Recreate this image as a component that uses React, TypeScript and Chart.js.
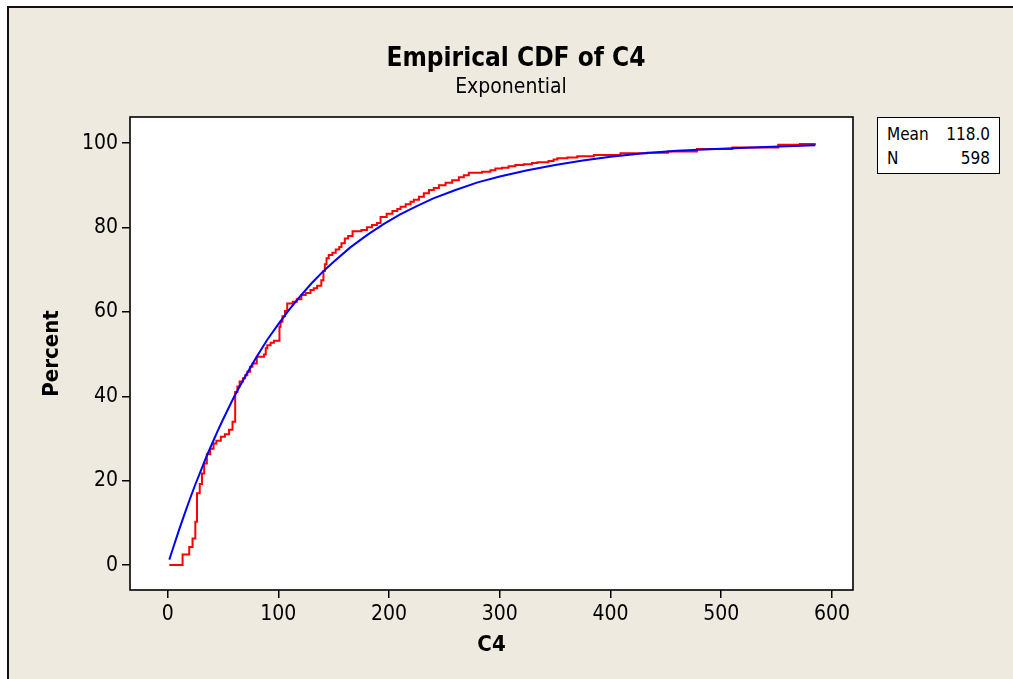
import { useEffect, useRef } from "react";
import { Chart, registerables } from "chart.js";

Chart.register(...registerables);

// ---------------- data ----------------
const titleText = "Empirical CDF of C4";
const subtitleText = "Exponential";
const xTitle = "C4";
const yTitle = "Percent";

const statLabels = ["Mean", "N"];
const statValues = ["118.0", "598"];

const xTicks = [0, 100, 200, 300, 400, 500, 600];
const yTicks = [0, 20, 40, 60, 80, 100];

// empirical CDF (step: value jumps to pct at x)
const ecdfX = [
  1.5, 13.5, 19.5, 22.5, 25, 26.5, 29, 31, 33, 35.4, 38.4, 41.5, 44, 48, 51.7, 55.5, 58.6, 61, 63, 65,
  68, 70, 72, 74.5, 76.6, 80.5, 87, 88.6, 90, 93, 96, 101, 102, 103.7, 106, 108, 113, 116.6, 120.8, 124.7,
  129, 132, 135, 138.8, 140.7, 142, 143.5, 145.5, 148.8, 151.8, 155, 157, 160, 163, 167, 175, 180, 184.5,
  189, 192.3, 197.8, 203, 207.4, 210.4, 215, 219.4, 222.4, 227, 231.4, 236, 240.4, 245, 251, 257, 263,
  267.5, 272, 284, 291.5, 296, 302, 308, 314, 321.6, 329, 334, 344, 348.6, 352, 361, 370, 385, 409, 433,
  452, 478, 510, 551.5, 571, 584.6,
];
const ecdfPct = [
  0, 2.5, 4.3, 6.3, 10.3, 17, 19.2, 21.7, 24.1, 26.3, 27.6, 28.8, 29.5, 30.4, 31, 32.1, 34, 41, 42.3, 43.5,
  44.3, 45, 45.8, 47, 47.8, 49.4, 49.9, 51.4, 52.1, 52.7, 53.2, 56.5, 57.7, 59, 60.2, 62, 62.4, 63, 64, 64.5,
  65.2, 65.6, 66.2, 67.5, 69.7, 71.3, 72.7, 73.5, 74, 74.8, 75.4, 76.3, 77.4, 78, 79.1, 79.4, 80.1, 80.6,
  81.1, 82.5, 83.3, 83.9, 84.4, 84.9, 85.5, 86.1, 86.6, 87.3, 88.1, 88.9, 89.4, 90, 90.6, 91.2, 91.9,
  92.4, 93, 93.2, 93.6, 94, 94.2, 94.5, 94.8, 95, 95.3, 95.5, 95.8, 96.1, 96.4, 96.6, 96.9, 97.2, 97.6, 97.7,
  98.0, 98.6, 99.0, 99.6, 99.8, 100,
];

// fitted exponential CDF
const fitX = [
  1.5, 5, 10, 15, 20, 25, 30, 35, 40, 45, 50, 60, 70, 80, 90, 100, 110, 120, 130, 140, 150, 165, 180, 195,
  210, 225, 240, 260, 280, 300, 325, 350, 375, 400, 430, 460, 500, 540, 585,
];
const fitPct = [
  1.3, 4.1, 8.1, 11.9, 15.6, 19.1, 22.4, 25.7, 28.7, 31.7, 34.5, 39.9, 44.7, 49.2, 53.4, 57.1, 60.6, 63.8,
  66.8, 69.5, 71.9, 75.3, 78.2, 80.8, 83.1, 85.1, 86.9, 88.9, 90.7, 92.1, 93.6, 94.8, 95.9, 96.8, 97.6, 98.2,
  98.7, 99.1, 99.5,
];

// ---------------- styling ----------------
const FONT = '"DejaVu Sans Condensed", "DejaVu Sans", sans-serif';
const BG = "#EEEAE0";

const plotFrame = {
  id: "plotFrame",
  beforeDraw(chart: any) {
    const { ctx, chartArea } = chart;
    const { left, top, right, bottom } = chartArea;
    ctx.save();
    ctx.fillStyle = "#ffffff";
    ctx.fillRect(left, top, right - left, bottom - top);
    ctx.restore();
  },
  afterDraw(chart: any) {
    const { ctx, chartArea } = chart;
    const { left, top, right, bottom } = chartArea;
    ctx.save();
    ctx.strokeStyle = "#000000";
    ctx.lineWidth = 1.6;
    ctx.strokeRect(left, top, right - left, bottom - top);
    ctx.restore();
  },
};

export default function App() {
  const canvasRef = useRef<HTMLCanvasElement | null>(null);

  useEffect(() => {
    document.body.style.margin = "0";
    document.body.style.overflow = "hidden";
    const canvas = canvasRef.current;
    if (!canvas) return;

    const chart = new Chart(canvas, {
      type: "line",
      data: {
        datasets: [
          {
            label: "Exponential fit",
            data: fitX.map((x, i) => ({ x, y: fitPct[i] })),
            borderColor: "#0000FF",
            borderWidth: 2,
            pointRadius: 0,
            tension: 0,
            fill: false,
          },
          {
            label: "C4",
            data: ecdfX.map((x, i) => ({ x, y: ecdfPct[i] })),
            borderColor: "#FF0000",
            borderWidth: 2,
            pointRadius: 0,
            stepped: "before",
            fill: false,
          },
        ],
      },
      options: {
        animation: false,
        responsive: false,
        devicePixelRatio: 1,
        layout: { padding: { left: 0, right: 160, top: 117, bottom: 0 } },
        plugins: {
          legend: { display: false },
          tooltip: { enabled: false },
          title: { display: false },
        },
        scales: {
          x: {
            type: "linear",
            min: -34,
            max: 619,
            afterBuildTicks: (s: any) => {
              s.ticks = xTicks.map((v) => ({ value: v }));
            },
            afterFit: (s: any) => {
              s.height = 89;
            },
            border: { display: false },
            grid: {
              display: true,
              drawOnChartArea: false,
              drawTicks: true,
              tickLength: 8,
              color: "#000",
              lineWidth: 1.5,
            },
            ticks: {
              color: "#000",
              padding: 4,
              maxRotation: 0,
              font: { family: FONT, size: 21 },
            },
            title: {
              display: true,
              text: xTitle,
              color: "#000",
              font: { family: FONT, size: 22, weight: "bold", lineHeight: 1.2 },
              padding: { top: 0, bottom: 21 },
            },
          },
          y: {
            type: "linear",
            min: -5.9,
            max: 106.2,
            afterBuildTicks: (s: any) => {
              s.ticks = yTicks.map((v) => ({ value: v }));
            },
            afterFit: (s: any) => {
              s.width = 130;
            },
            border: { display: false },
            grid: {
              display: true,
              drawOnChartArea: false,
              drawTicks: true,
              tickLength: 8,
              color: "#000",
              lineWidth: 1.5,
            },
            ticks: {
              color: "#000",
              padding: 4,
              font: { family: FONT, size: 21 },
            },
            title: {
              display: true,
              text: yTitle,
              color: "#000",
              font: { family: FONT, size: 22, weight: "bold", lineHeight: 1.2 },
              padding: { top: 39, bottom: 0 },
            },
          },
        },
      },
      plugins: [plotFrame],
    } as any);

    return () => chart.destroy();
  }, []);

  return (
    <div
      style={{
        position: "relative",
        width: 1013,
        height: 679,
        background: "#ffffff",
        overflow: "hidden",
        fontFamily: FONT,
      }}
    >
      <div
        style={{
          position: "absolute",
          left: 7,
          top: 6,
          width: 1004,
          height: 700,
          background: BG,
          borderLeft: "2px solid #111",
          borderTop: "2px solid #111",
        }}
      />
      <canvas
        ref={canvasRef}
        width={1013}
        height={679}
        style={{ position: "absolute", left: 0, top: 0, width: 1013, height: 679 }}
      />
      <div
        style={{
          position: "absolute",
          left: 516,
          top: 57,
          transform: "translate(-50%, -50%)",
          whiteSpace: "nowrap",
          fontWeight: "bold",
          fontSize: 26,
          lineHeight: 1,
          color: "#000",
        }}
      >
        {titleText}
      </div>
      <div
        style={{
          position: "absolute",
          left: 511,
          top: 86,
          transform: "translate(-50%, -50%)",
          whiteSpace: "nowrap",
          fontSize: 21,
          lineHeight: 1,
          color: "#000",
        }}
      >
        {subtitleText}
      </div>
      <div
        style={{
          position: "absolute",
          left: 877,
          top: 117,
          width: 123,
          height: 57,
          boxSizing: "border-box",
          border: "1.5px solid #000",
          background: "#fff",
        }}
      >
        {statLabels.map((lab, i) => (
          <div
            key={lab}
            style={{
              position: "absolute",
              left: 9,
              right: 9,
              top: 6 + i * 24,
              height: 20,
              display: "flex",
              justifyContent: "space-between",
              alignItems: "center",
              fontSize: 17,
              lineHeight: 1,
              color: "#000",
            }}
          >
            <span>{lab}</span>
            <span>{statValues[i]}</span>
          </div>
        ))}
      </div>
    </div>
  );
}
